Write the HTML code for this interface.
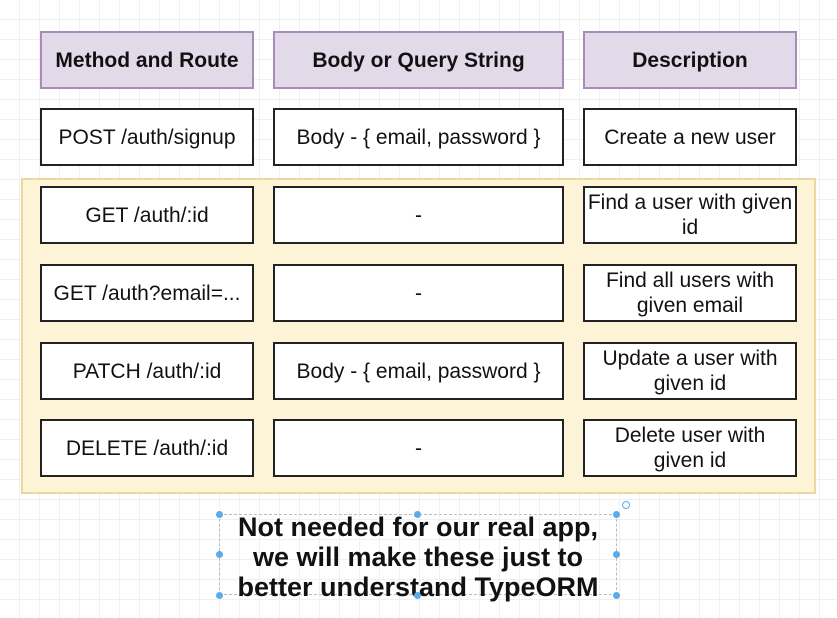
<!DOCTYPE html>
<html><head><style>
body{margin:0;width:837px;height:618px;overflow:hidden;font-family:"Liberation Sans",sans-serif;
background-color:#fff;background-image:linear-gradient(#f0f0f0 1px,transparent 1px),linear-gradient(90deg,#f0f0f0 1px,transparent 1px);background-size:20px 20px;background-position:-1px -1px;position:relative}
.b{position:absolute;box-sizing:border-box;border:2px solid #222;background:#fff;display:flex;align-items:center;justify-content:center;text-align:center;font-size:21px;color:#111;line-height:25px}
.h{background:#e2d9e9;border-color:#a88bb8;font-weight:bold}
.y{position:absolute;left:21px;top:178px;width:795px;height:316px;box-sizing:border-box;background:#fdf3d6;border:2px solid #ecd79e}
.t{position:absolute;left:169px;top:512px;width:498px;text-align:center;font-weight:bold;font-size:27px;line-height:30px;color:#111}
.sel{position:absolute;left:219px;top:514px;width:398px;height:81px;border:1px dashed #bbb;box-sizing:border-box}
.d{position:absolute;width:7px;height:7px;border-radius:50%;background:#5aabea}
</style></head><body>
<div class="b h" style="left:40px;top:31px;width:214px;height:58px">Method and Route</div>
<div class="b h" style="left:273px;top:31px;width:291px;height:58px">Body or Query String</div>
<div class="b h" style="left:583px;top:31px;width:214px;height:58px">Description</div>
<div class="b" style="left:40px;top:108px;width:214px;height:58px">POST /auth/signup</div>
<div class="b" style="left:273px;top:108px;width:291px;height:58px">Body - { email, password }</div>
<div class="b" style="left:583px;top:108px;width:214px;height:58px">Create a new user</div>
<div class="y"></div>
<div class="b" style="left:40px;top:186px;width:214px;height:58px">GET /auth/:id</div>
<div class="b" style="left:273px;top:186px;width:291px;height:58px">-</div>
<div class="b" style="left:583px;top:186px;width:214px;height:58px">Find a user with given<br>id</div>
<div class="b" style="left:40px;top:264px;width:214px;height:58px">GET /auth?email=...</div>
<div class="b" style="left:273px;top:264px;width:291px;height:58px">-</div>
<div class="b" style="left:583px;top:264px;width:214px;height:58px">Find all users with<br>given email</div>
<div class="b" style="left:40px;top:342px;width:214px;height:58px">PATCH /auth/:id</div>
<div class="b" style="left:273px;top:342px;width:291px;height:58px">Body - { email, password }</div>
<div class="b" style="left:583px;top:342px;width:214px;height:58px">Update a user with<br>given id</div>
<div class="b" style="left:40px;top:419px;width:214px;height:58px">DELETE /auth/:id</div>
<div class="b" style="left:273px;top:419px;width:291px;height:58px">-</div>
<div class="b" style="left:583px;top:419px;width:214px;height:58px">Delete user with<br>given id</div>
<div class="sel"></div>
<div class="t">Not needed for our real app,<br>we will make these just to<br>better understand TypeORM</div>
<div class="d" style="left:216px;top:511px"></div><div class="d" style="left:414px;top:511px"></div><div class="d" style="left:613px;top:511px"></div>
<div class="d" style="left:216px;top:551px"></div><div class="d" style="left:613px;top:551px"></div>
<div class="d" style="left:216px;top:592px"></div><div class="d" style="left:414px;top:592px"></div><div class="d" style="left:613px;top:592px"></div>
<div style="position:absolute;left:622px;top:501px;width:6px;height:6px;border:1.5px solid #5aabea;border-radius:50%"></div>
</body></html>
